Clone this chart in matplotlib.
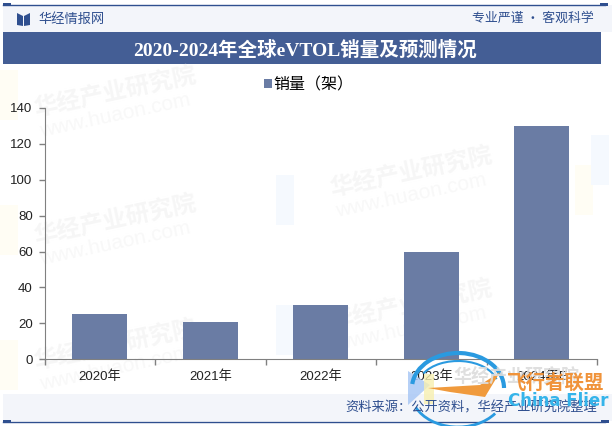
import matplotlib
matplotlib.use("Agg")
import matplotlib.pyplot as plt
from matplotlib.patches import Rectangle, Polygon, Arc

plt.rcParams['font.family'] = ['Noto Sans CJK SC', 'DejaVu Sans']

years = ["2020年", "2021年", "2022年", "2023年", "2024年E"]
sales = [25, 20.5, 30, 60, 130]
yticks = [0, 20, 40, 60, 80, 100, 120, 140]

W, H = 612, 426
fig = plt.figure(figsize=(W / 100, H / 100), dpi=100)

# background layer in pixel coordinates
bg = fig.add_axes([0, 0, 1, 1], zorder=0)
bg.set_xlim(0, W)
bg.set_ylim(H, 0)
bg.axis("off")

navy = "#2f4f8f"

# watermarks
for x, y in [(115, 92), (115, 220), (411, 172), (411, 305), (115, 345)]:
    bg.text(x, y, "华经产业研究院", fontsize=17, color="#f6f6f6", weight="bold",
            rotation=12, va="center", ha="center")
    bg.text(x, y + 24, "www.huaon.com", fontsize=15, color="#f8f8f8",
            rotation=12, va="center", ha="center", family="Liberation Sans")
for x, y in [(8, 100), (8, 235), (8, 370), (583, 195)]:
    bg.add_patch(Rectangle((x - 8, y - 30), 18, 50, color="#fffdf4", lw=0))
for x, y in [(285, 205), (285, 335), (600, 165)]:
    bg.add_patch(Rectangle((x - 9, y - 30), 18, 50, color="#f5f9fe", lw=0))

bg.add_patch(Rectangle((3, 5), 609, 27, color="#f3f5fa", lw=0))
bg.add_patch(Rectangle((3, 32), 598, 32, color="#445e95", lw=0))
bg.add_patch(Rectangle((3, 394), 609, 27, color="#f3f5fa", lw=0))
bg.plot([3, 605], [4.5, 4.5], color=navy, lw=1)
bg.plot([3, 605], [421.5, 421.5], color=navy, lw=1)
bg.add_patch(Rectangle((3, 3), 8, 3, color=navy, lw=0))
bg.add_patch(Rectangle((600, 3), 8, 3, color=navy, lw=0))
bg.add_patch(Rectangle((601, 420), 8, 3, color=navy, lw=0))
bg.add_patch(Rectangle((3, 420), 8, 3, color=navy, lw=0))

# header logo
bg.add_patch(Polygon([(17, 13), (23, 16), (23, 26), (17, 25)], color=navy, lw=0))
bg.add_patch(Polygon([(30, 13), (24, 16), (24, 26), (30, 25)], color=navy, lw=0))
bg.text(38, 19, "华经情报网", fontsize=9.5, color=navy, va="center", ha="left")
bg.text(594, 18.5, "专业严谨 • 客观科学", fontsize=9.3, color=navy, va="center", ha="right")
bg.text(305, 50, "2020-2024年全球eVTOL销量及预测情况", fontsize=14, color="white",
        weight="bold", va="center", ha="center",
        family=["Liberation Serif", "Noto Sans CJK SC"])

# chart
ax = fig.add_axes([44.5 / W, 1 - 359.2 / H, (597 - 44.5) / W, (359.2 - 108) / H], zorder=1)
ax.patch.set_alpha(0)
xpos = range(len(years))
bars = ax.bar(xpos, sales, width=0.5, color="#6a7ca4", label="销量（架）")
ax.set_xlim(-0.5, 4.5)
ax.set_ylim(0, 140)
ax.set_yticks(yticks)
ax.set_xticks([i - 0.5 for i in range(6)])
ax.set_xticklabels([])
ax.set_xticks(list(xpos), labels=years, minor=True)
ax.tick_params(axis="x", which="major", length=4, color="#808080", width=1, direction="out")
ax.tick_params(axis="x", which="minor", length=0, pad=8, labelsize=9.5, labelcolor="#222222")
ax.tick_params(axis="y", length=4, color="#808080", width=1, pad=4.5, labelsize=9.5, labelcolor="#222222")
for s in ["top", "right"]:
    ax.spines[s].set_visible(False)
for s in ["left", "bottom"]:
    ax.spines[s].set_color("#808080")
for lab in ax.get_yticklabels():
    lab.set_family(["Liberation Sans", "DejaVu Sans"])
for lab in ax.get_xticklabels(minor=True):
    lab.set_family(["Liberation Sans", "Noto Sans CJK SC"])

fig.legend(handles=[bars], labels=["销量（架）"], loc="center", bbox_to_anchor=(309 / W, 1 - 85 / H),
           frameon=False, fontsize=11.5, handlelength=0.5, handleheight=0.5, handletextpad=0.1)

# foreground: source text and overlay stamp
fg = fig.add_axes([0, 0, 1, 1], zorder=2)
fg.set_xlim(0, W)
fg.set_ylim(H, 0)
fg.axis("off")
fg.patch.set_alpha(0)
fg.text(597, 408, "资料来源：公开资料，华经产业研究院整理", fontsize=9.5, color=navy, va="center", ha="right")

fg.add_patch(Polygon([(408, 371), (430, 385), (408, 405)], color="#a9c8f5", lw=0, alpha=0.85))
fg.add_patch(Rectangle((424, 374), 10, 30, color="#f7efb0", lw=0, alpha=0.8))
fg.add_patch(Arc((458, 388), 92, 70, theta1=185, theta2=360, color="#2a9ae0", lw=3))
fg.add_patch(Arc((458, 386), 80, 50, theta1=200, theta2=350, color="#2a9ae0", lw=1.5))
fg.add_patch(Arc((458, 392), 94, 70, theta1=30, theta2=160, color="#2a9ae0", lw=2))
fg.add_patch(Polygon([(428, 388), (480, 385), (500, 372), (485, 397), (450, 392)], color="#f09a3c", lw=0))
fg.text(453, 377, "华经产业研究院", fontsize=13, color="#dcdcdc", weight="bold", va="center", ha="left", alpha=0.9)
fg.text(556, 383, "飞行者联盟", fontsize=14, color="#f0933a", weight="bold", va="center", ha="center")
fg.text(558, 401, "China Flier", fontsize=12, color="#35b4ea", weight="bold", va="center", ha="center",
        family="DejaVu Sans")

fig.savefig("out.png", dpi=100)
